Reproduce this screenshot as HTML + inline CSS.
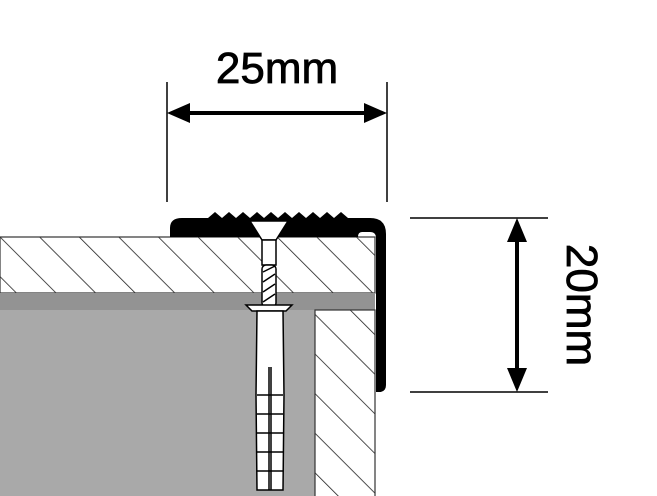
<!DOCTYPE html>
<html><head><style>
html,body{margin:0;padding:0;background:#fff;width:657px;height:496px;overflow:hidden}
</style></head><body>
<svg width="657" height="496" viewBox="0 0 657 496" xmlns="http://www.w3.org/2000/svg">
<defs>
<pattern id="h" patternUnits="userSpaceOnUse" width="28" height="28" patternTransform="rotate(-45)">
<rect width="28" height="28" fill="#fff"/>
<line x1="0" y1="0" x2="0" y2="28" stroke="#222" stroke-width="1.6"/>
</pattern>
</defs>
<!-- slab -->
<rect x="0" y="237" width="375" height="56" fill="url(#h)" stroke="#333" stroke-width="1.2"/>
<rect x="0" y="293" width="375" height="17" fill="#939393"/>
<rect x="0" y="310" width="315" height="186" fill="#a9a9a9"/>
<rect x="315" y="310" width="60" height="190" fill="url(#h)" stroke="#333" stroke-width="1.2"/>
<!-- profile -->
<path d="M170,237 L170,228 Q170,218 182,218 L208,218 L215,212 L222,218 L229,212 L236,218 L243,212 L250,218 L257,212 L264,218 L271,212 L278,218 L285,212 L292,218 L299,212 L306,218 L313,212 L320,218 L327,212 L334,218 L341,212 L348,218 L370,218 Q386,218 386,234 L386,385 Q386,392 379,392 L376,392 L376,238 Q376,232 370,232 L362,232 Q358,232 358,237 Z" fill="#000"/>
<!-- screw -->
<path d="M250,221 L288,221 L276,240 L262,240 Z" fill="#fff" stroke="#000" stroke-width="1.5"/>
<rect x="262" y="240" width="14" height="25" fill="#fff" stroke="#000" stroke-width="1.5"/>
<rect x="262" y="265" width="14" height="42" fill="#fff" stroke="#000" stroke-width="1.5" rx="4"/>
<path d="M263,272 L275,266 M263,282 L275,274 M263,292 L275,284 M263,302 L275,294" stroke="#000" stroke-width="1.5"/>
<!-- anchor -->
<path d="M246,305 L292,305 L286,311 L252,311 Z" fill="#fff" stroke="#000" stroke-width="1.5"/>
<path d="M257,311 L283,311 L284,395 L283,490 L257,490 L256,395 Z" fill="#fff" stroke="#000" stroke-width="1.5"/>
<path d="M257,395 H283 M257,414 H283 M257,433 H283 M257,452 H283 M257,471 H283" stroke="#000" stroke-width="1.5"/>
<path d="M269,367 L269,490 M271,367 L271,490" stroke="#000" stroke-width="1.5"/>
<!-- dimensions -->
<line x1="167" y1="82" x2="167" y2="202" stroke="#000" stroke-width="1.5"/>
<line x1="387" y1="82" x2="387" y2="202" stroke="#000" stroke-width="1.5"/>
<path d="M167,113 L190,103 L190,123 Z M387,113 L364,103 L364,123 Z" fill="#000"/>
<line x1="185" y1="113" x2="370" y2="113" stroke="#000" stroke-width="4"/>
<text x="277" y="83" font-family="Liberation Sans, sans-serif" font-size="44" text-anchor="middle" stroke="#000" stroke-width="0.8">25mm</text>
<line x1="410" y1="218" x2="548" y2="218" stroke="#000" stroke-width="1.5"/>
<line x1="410" y1="392" x2="548" y2="392" stroke="#000" stroke-width="1.5"/>
<path d="M517,218 L507,242 L527,242 Z M517,392 L507,368 L527,368 Z" fill="#000"/>
<line x1="517" y1="235" x2="517" y2="375" stroke="#000" stroke-width="4"/>
<text transform="translate(567,305) rotate(90)" font-family="Liberation Sans, sans-serif" font-size="44" text-anchor="middle" stroke="#000" stroke-width="0.8">20mm</text>
</svg>
</body></html>
